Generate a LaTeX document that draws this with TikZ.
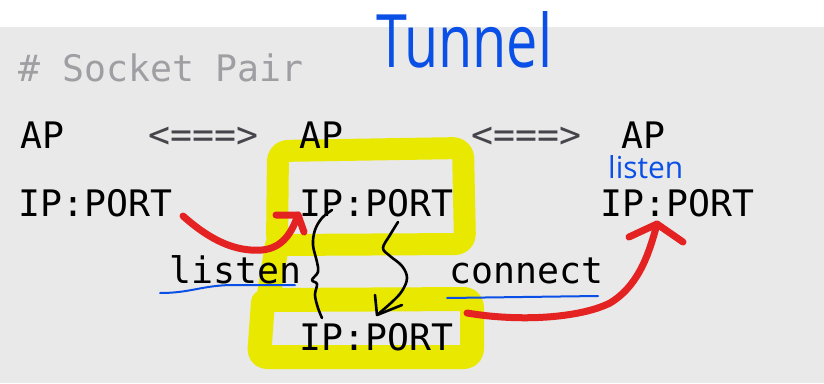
\documentclass[tikz,border=0pt]{standalone}
\usepackage{fontspec}
\setmonofont{DejaVu Sans Mono}
\newfontfamily\penfont{Open Sans}
\usetikzlibrary{calc}

\definecolor{paper}{HTML}{E9E9E9}
\definecolor{comment}{HTML}{9E9EA3}
\definecolor{arrowtxt}{HTML}{45454C}
\definecolor{hilite}{HTML}{E8E800}
\definecolor{inkred}{HTML}{E42222}
\definecolor{inkblue}{HTML}{0A4FE6}

\begin{document}
\begin{tikzpicture}[x=1pt,y=-1pt,
  code/.style={anchor=base west, inner sep=0pt,
    font=\ttfamily\fontsize{36.5pt}{40pt}\selectfont, text=black},
  note/.style={anchor=base west, inner sep=0pt, text=inkblue},
  hl/.style={draw=hilite, line width=22pt, line cap=round, line join=round},
  redpen/.style={draw=inkred, line width=7pt, line cap=round, line join=round},
  blackpen/.style={draw=black, line width=2.6pt, line cap=round, line join=round},
  bluepen/.style={draw=inkblue, line width=2pt, line cap=round, line join=round},
]
\useasboundingbox (0,0) rectangle (824,383);
\fill[white] (0,0) rectangle (824,27);
\fill[paper] (0,27) rectangle (824,383);

% highlighter loops around the tunnel end points
\draw[hl, rounded corners=10pt] (278,151) -- (463,148) -- (465,244) -- (277,245) -- cycle;
\draw[hl, line width=24pt, rounded corners=8pt]
  (277,245) -- (268,300) -- (472,299) -- (472,357) -- (259,357) -- (263,302);

% code text
\node[code, text=comment] (title) at (18,81) {\# Socket Pair};
\node[code] (apL) at (20,148) {AP};
\node[code, text=arrowtxt] (linkL) at (148,147) {<===>};
\node[code] (apM) at (299,148) {AP};
\node[code, text=arrowtxt] (linkR) at (471,147) {<===>};
\node[code] (apR) at (621,148) {AP};
\node[code] (ipL) at (18,216) {IP:PORT};
\node[code] (ipM) at (299,216) {IP:PORT};
\node[code] (ipR) at (600,216) {IP:PORT};
\node[code] (listen) at (169,283) {listen};
\node[code] (connect) at (449,283) {connect};
\node[code] (ipB) at (299,350) {IP:PORT};

% handwritten notes
\node[note] (tunnel) at (376,67) {\resizebox{176pt}{56pt}{\penfont Tunnel}};
\node[note] (tag) at (608,178) {\resizebox{75pt}{23pt}{\penfont listen}};
\draw[bluepen] (160,293) .. controls (190,293) and (200,286) .. (230,285) -- (295,285);
\draw[bluepen] (447,298) -- (598,296);

% red arrows
\coordinate (r1s) at (183,216);
\coordinate (r1t) at (298,215);
\draw[redpen] (r1s) .. controls (210,240) and (235,252) .. (262,250)
  .. controls (283,248) and (292,232) .. (r1t);
\draw[redpen] (276,215) -- (r1t) -- (304,232);

\coordinate (r2s) at (467,313);
\coordinate (r2t) at (657,224);
\draw[redpen] (r2s) .. controls (520,322) and (580,318) .. (610,303)
  .. controls (640,285) and (650,250) .. (r2t);
\draw[redpen] (629,237) -- (r2t) -- (683,242);

% black squiggles between the two middle end points
\coordinate (b1s) at (332,210);
\coordinate (b1e) at (322,318);
\draw[blackpen] plot[smooth, tension=0.6] coordinates {(b1s) (322,218) (315,230) (313,245)
  (317,262) (318,272) (312,280) (317,284) (315,295) (318,308) (b1e)};

\coordinate (b2s) at (398,222);
\coordinate (b2t) at (377,315);
\draw[blackpen] plot[smooth, tension=0.6] coordinates {(b2s) (390,235) (383,248) (390,256)
  (402,266) (407,278) (402,291) (392,302) (b2t)};
\draw[blackpen] (375,295) -- (b2t) -- (402,305);
\end{tikzpicture}
\end{document}
